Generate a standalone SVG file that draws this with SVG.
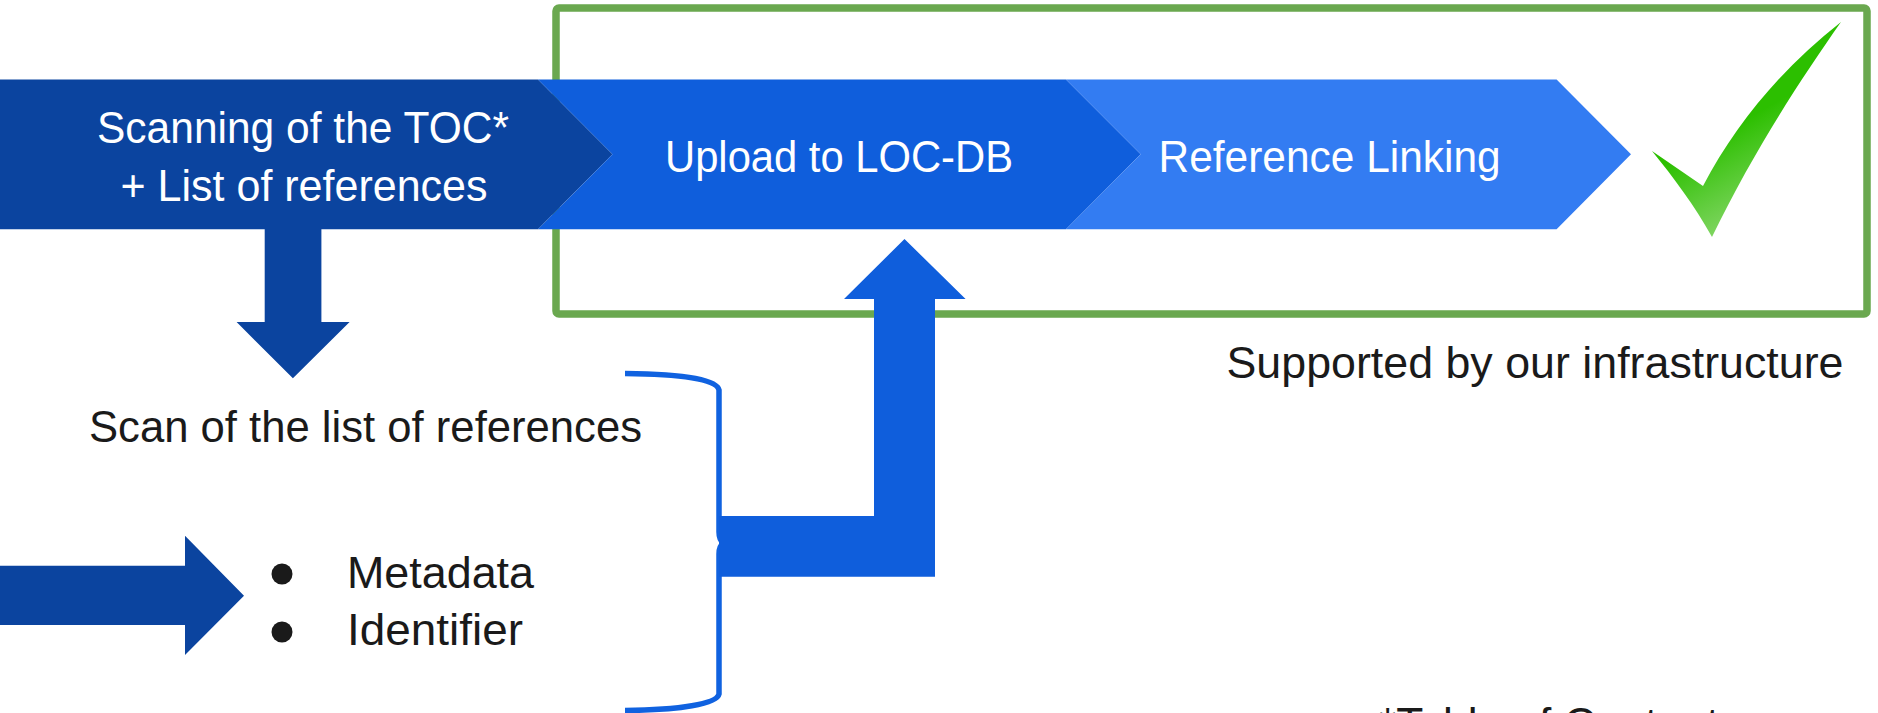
<svg xmlns="http://www.w3.org/2000/svg" width="1878" height="713" viewBox="0 0 1878 713">
  <defs>
    <style>
      .t { font-family: "Liberation Sans", Arial, sans-serif; font-size: 45px; }
      .w { fill: #ffffff; }
      .k { fill: #1a1a1a; }
      .dark { fill: #0B449F; }
      .mid { fill: #0F5EDC; }
      .light { fill: #337CF2; }
    </style>
    <linearGradient id="checkGrad" gradientUnits="userSpaceOnUse" x1="1690" y1="150" x2="1740" y2="240">
      <stop offset="0" stop-color="#2CBF00"/>
      <stop offset="1" stop-color="#8ED972"/>
    </linearGradient>
  </defs>
  <rect width="1878" height="713" fill="#ffffff"/>

  <g id="infrastructure-box">
    <rect x="556" y="8" width="1311" height="306" rx="3" fill="none" stroke="#6AA84F" stroke-width="7.5"/>
    <text class="t k" x="1226.5" y="378" textLength="617" lengthAdjust="spacingAndGlyphs">Supported by our infrastructure</text>
  </g>

  <g id="step-scanning">
    <path class="dark" d="M0,79.5 H538 L612.5,154.3 L538,229.3 H0 Z"/>
    <text class="t w" x="97" y="143.3" textLength="412" lengthAdjust="spacingAndGlyphs">Scanning of the TOC*</text>
    <text class="t w" x="120.5" y="200.5" textLength="367" lengthAdjust="spacingAndGlyphs">+ List of references</text>
  </g>

  <g id="step-upload">
    <path class="mid" d="M538,79.5 H1066 L1140.7,154.3 L1066,229.3 H538 L612.5,154.3 Z"/>
    <text class="t w" x="665" y="171.7" textLength="348" lengthAdjust="spacingAndGlyphs">Upload to LOC-DB</text>
  </g>

  <g id="step-linking">
    <path class="light" d="M1066,79.5 H1556.6 L1631,154.3 L1556.6,229.3 H1066 L1140.7,154.3 Z"/>
    <text class="t w" x="1158.6" y="171.7" textLength="342" lengthAdjust="spacingAndGlyphs">Reference Linking</text>
  </g>

  <g id="checkmark">
    <path fill="url(#checkGrad)" d="M1652,151 L1703,186 C1735,125 1782,68 1841,22 C1803,76 1754,150 1712,237 C1694,205 1674,178 1652,151 Z"/>
  </g>

  <g id="scan-list">
    <text class="t k" x="89" y="441.7" textLength="553" lengthAdjust="spacingAndGlyphs">Scan of the list of references</text>
  </g>

  <g id="output-items">
    <circle cx="282" cy="574" r="10.5" fill="#1a1a1a"/>
    <circle cx="282" cy="632" r="10.5" fill="#1a1a1a"/>
    <text class="t k" x="347" y="587.7" textLength="187" lengthAdjust="spacingAndGlyphs">Metadata</text>
    <text class="t k" x="347" y="645.3" textLength="176" lengthAdjust="spacingAndGlyphs">Identifier</text>
  </g>

  <g id="footnote">
    <text class="t k" x="1379" y="739" textLength="362" lengthAdjust="spacingAndGlyphs">*Table of Contents</text>
  </g>

  <g id="connectors">
    <path class="dark" d="M264.7,229 H321.4 V322 H349.6 L292.9,378.3 L236.6,322 H264.7 Z"/>
    <path class="dark" d="M0,565.7 H185 V535.7 L244,595.7 L185,655 V625 H0 Z"/>
    <path fill="none" stroke="#1062E0" stroke-width="5.5" d="M625,373.5 C680,374 717,379 719,390 V532 Q719,540 723.5,543 Q719,546 719,554 V694 C717,704 680,710 625,710.5"/>
    <path class="mid" d="M904.5,239 L965.6,299 H935 V576.7 H719 V516 H874 V299 H844 Z"/>
  </g>
</svg>
